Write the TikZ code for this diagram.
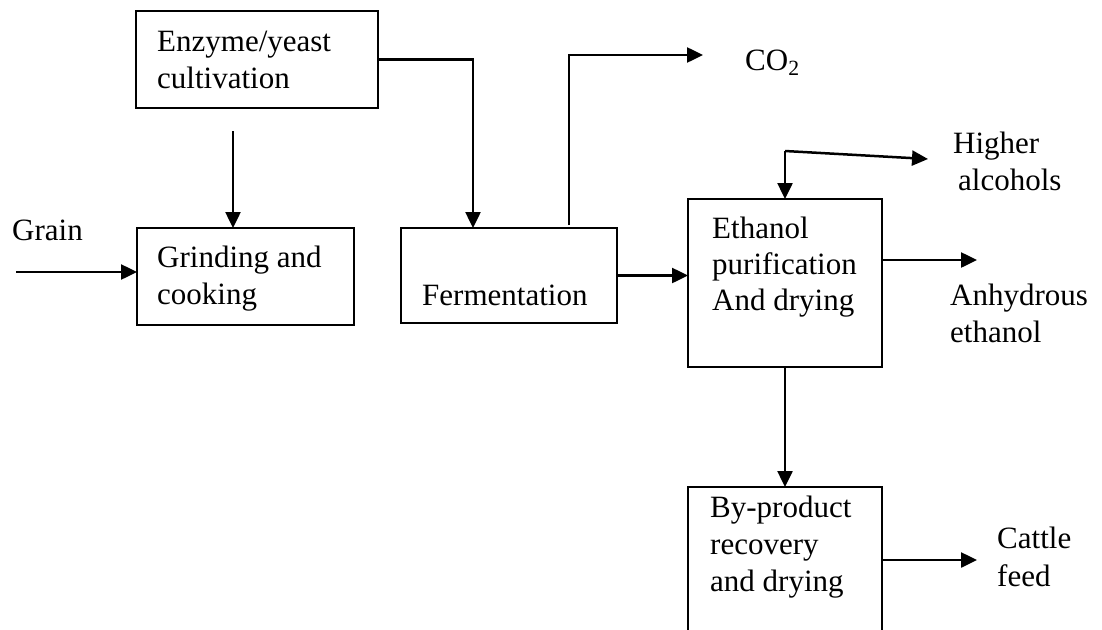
\documentclass[tikz,border=0pt]{standalone}
\usepackage{fontspec}
\setmainfont{Liberation Serif}
\usetikzlibrary{arrows.meta,calc}
\begin{document}
\begin{tikzpicture}[x=1pt,y=-1pt,
  box/.style={draw,line width=2.2pt,inner sep=0pt,outer sep=0pt,anchor=north west},
  txt/.style={anchor=base west,inner sep=0pt,font=\fontsize{31}{37}\selectfont},
  arr/.style={line width=2.5pt,-{Triangle[length=16pt,width=15pt]}}]
\useasboundingbox (0,0) rectangle (1102,629);
\clip (0,0) rectangle (1102,629);
% boxes
\node[box,minimum width=242pt,minimum height=97pt] (enz) at (136,11) {};
\node[box,minimum width=217pt,minimum height=97pt] (grind) at (137,228) {};
\node[box,minimum width=216pt,minimum height=95pt] (ferm) at (401,228) {};
\node[box,minimum width=194pt,minimum height=168pt] (eth) at (688,199) {};
\node[box,minimum width=194pt,minimum height=200pt] (byp) at (688,487) {};
% box texts
\node[txt] (t1) at (157,51) {Enzyme/yeast};
\node[txt] (t2) at (157,88) {cultivation};
\node[txt] (t3) at (157,267) {Grinding and};
\node[txt] (t4) at (157,304) {cooking};
\node[txt] (t5) at (422,305) {Fermentation};
\node[txt] (t6) at (712,238) {Ethanol};
\node[txt] (t7) at (712,274) {purification};
\node[txt] (t8) at (712,310) {And drying};
\node[txt] (t9) at (710,517) {By-product};
\node[txt] (t10) at (710,554) {recovery};
\node[txt] (t11) at (710,591) {and drying};
% outside labels
\node[txt] (grain) at (12,240) {Grain};
\node[txt] (co2) at (745,70) {CO\textsubscript{2}};
\node[txt] (hi1) at (953,153) {Higher};
\node[txt] (hi2) at (958,190) {alcohols};
\node[txt] (an1) at (950,305) {Anhydrous};
\node[txt] (an2) at (950,342) {ethanol};
\node[txt] (ca1) at (997,548) {Cattle};
\node[txt] (ca2) at (997,586) {feed};
% coordinates
\coordinate (g0) at (16,272);
\coordinate (e1) at (233,131);
\coordinate (c2) at (703,55);
\coordinate (h0) at (785,151);
\coordinate (h1) at (928,159);
\coordinate (a1) at (977,260);
\coordinate (c1) at (977,560);
% connectors
\draw[arr] (g0) -- (g0 -| grind.west);
\draw[arr] (e1) -- (e1 |- grind.north);
\draw[arr] (enz.east) -| ($(ferm.north west)+(72,0)$);
\draw[arr] ($(ferm.north west)+(168,-3)$) |- (c2);
\draw[arr] (ferm.east) -- (ferm.east -| eth.west);
\draw[arr] (h0) -- (h0 |- eth.north);
\draw[arr] (h0) -- (h1);
\draw[arr] (a1 -| eth.east) -- (a1);
\draw[arr] (eth.south) -- (byp.north);
\draw[arr] (c1 -| byp.east) -- (c1);
\end{tikzpicture}
\end{document}
